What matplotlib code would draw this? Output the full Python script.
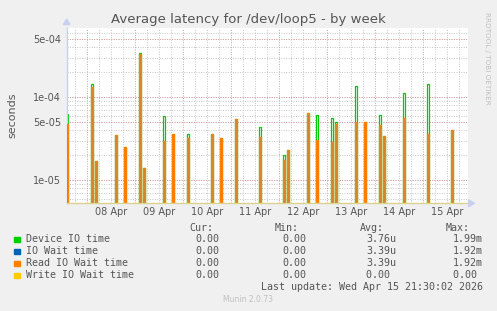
import numpy as np
import matplotlib
matplotlib.use("Agg")
import matplotlib.pyplot as plt
from matplotlib.ticker import LogLocator, NullFormatter

# hours since 08 Apr 00:00
spike_hours = [-10, 2.5, 4.5, 14.5, 19, 26.5, 28.5, 38.5, 43, 50.5, 62.5, 67, 74.5,
               86.5, 98.5, 100.5, 110.5, 115, 122.5, 124.5, 134.5, 139, 146.5, 148.5,
               158.5, 170.5, 182.5]
device_io = [6.3e-5, 1.45e-4, 1.7e-5, 3.5e-5, 2.5e-5, 3.42e-4, 1.4e-5, 6.0e-5, 3.6e-5,
             3.6e-5, 3.6e-5, 3.2e-5, 5.5e-5, 4.4e-5, 2.02e-5, 2.3e-5, 6.5e-5, 6.1e-5,
             5.6e-5, 5.0e-5, 1.37e-4, 5.0e-5, 6.1e-5, 3.4e-5, 1.12e-4, 1.44e-4, 4.0e-5]
read_wait = [4.76e-5, 1.34e-4, 1.72e-5, 3.54e-5, 2.52e-5, 3.3e-4, 1.42e-5, 3.0e-5, 3.6e-5,
             3.2e-5, 3.6e-5, 3.2e-5, 5.5e-5, 3.3e-5, 1.76e-5, 2.32e-5, 6.5e-5, 3.06e-5,
             2.87e-5, 4.76e-5, 5.0e-5, 5.0e-5, 4.7e-5, 3.4e-5, 5.6e-5, 3.6e-5, 4.0e-5]

day_labels = ["08 Apr", "09 Apr", "10 Apr", "11 Apr", "12 Apr", "13 Apr", "14 Apr", "15 Apr"]
y_ticks = [1e-5, 5e-5, 1e-4, 5e-4]
y_ticklabels = ["1e-05", "5e-05", "1e-04", "5e-04"]

series_names = ["Device IO time", "IO Wait time", "Read IO Wait time", "Write IO Wait time"]
series_colors = ["#00cc00", "#0066b3", "#ff8000", "#ffcc00"]
cur_vals = ["0.00", "0.00", "0.00", "0.00"]
min_vals = ["0.00", "0.00", "0.00", "0.00"]
avg_vals = ["3.76u", "3.39u", "3.39u", "0.00 "]
max_vals = ["1.99m", "1.92m", "1.92m", "0.00 "]

txt = "#555555"
W, H = 497, 311
fig = plt.figure(figsize=(W / 100, H / 100), dpi=100, facecolor="#f0f0f0")
L, R, T, B = 66.7, 468.3, 27.7, 203.3
ax = fig.add_axes([L / W, 1 - B / H, (R - L) / W, (B - T) / H])
ax.set_facecolor("white")
ax.set_yscale("log")
ax.set_xlim(-10.3, 190.5)
ax.set_ylim(5.28e-6, 6.9e-4)

# grid
grey = "#c6c6c6"
pink = "#e29c9c"
dots = (0, (1, 1.5))
minor_y = LogLocator(base=10, subs=np.arange(1, 10)).tick_values(1e-6, 1e-3)
for v in minor_y:
    ax.axhline(v, color=grey, lw=0.7, ls=dots, zorder=0)
for v in y_ticks:
    ax.axhline(v, color=pink, lw=0.7, ls=dots, zorder=0.5)
for h in np.arange(-6, 191, 6):
    if h % 24 == 0:
        ax.axvline(h, color=pink, lw=0.7, ls=dots, zorder=0.5)
    else:
        ax.axvline(h, color=grey, lw=0.7, ls=dots, zorder=0)

# spikes
floor = 1e-7
ax.bar(spike_hours, np.array(device_io) - floor, bottom=floor, width=1.0,
       facecolor="none", edgecolor=series_colors[0], lw=0.9, zorder=2)
ax.bar(spike_hours, np.array(read_wait) - floor, bottom=floor, width=1.0,
       facecolor="#c8883a", edgecolor=series_colors[2], lw=0.9, zorder=3)

ax.set_yticks(y_ticks)
ax.set_yticklabels(y_ticklabels)
ax.yaxis.set_minor_formatter(NullFormatter())
ax.tick_params(axis="y", which="both", length=0, labelsize=7, colors=txt, pad=4)
ax.set_xticks(np.arange(12, 12 + 24 * len(day_labels), 24))
ax.set_xticklabels(day_labels)
ax.tick_params(axis="x", which="both", length=0, labelsize=7, colors=txt, pad=3)

for s in ["top", "right"]:
    ax.spines[s].set_visible(False)
ax.spines["left"].set_color("#c8d0f0")
ax.spines["left"].set_linewidth(1)
ax.spines["bottom"].set_color("#e0d090")
ax.spines["bottom"].set_linewidth(1)
ax.spines["bottom"].set_zorder(5)

# axis arrows
fig.patches.append(plt.Polygon([[63.5 / W, 1 - 24.5 / H], [70 / W, 1 - 24.5 / H], [66.7 / W, 1 - 19 / H]],
                               closed=True, transform=fig.transFigure, color="#c8d0f0"))
fig.patches.append(plt.Polygon([[468.5 / W, 1 - 199.8 / H], [468.5 / W, 1 - 206.8 / H], [474.5 / W, 1 - 203.3 / H]],
                               closed=True, transform=fig.transFigure, color="#c8d0f0"))

fig.text(248 / W, 1 - 19 / H, "Average latency for /dev/loop5 - by week", ha="center", va="center",
         fontsize=9.5, color=txt)
fig.text(12 / W, 1 - 115 / H, "seconds", rotation=90, ha="center", va="center", fontsize=8, color=txt)
fig.text(487 / W, 1 - 58 / H, "RRDTOOL / TOBI OETIKER", rotation=270, ha="center", va="center",
         fontsize=5.2, color="#c0c0c0")

mono = dict(family="DejaVu Sans Mono", fontsize=7.2, color=txt, va="center")
fig.text(213 / W, 1 - 228 / H, "Cur:", ha="right", **mono)
fig.text(299 / W, 1 - 228 / H, "Min:", ha="right", **mono)
fig.text(384 / W, 1 - 228 / H, "Avg:", ha="right", **mono)
fig.text(470 / W, 1 - 228 / H, "Max:", ha="right", **mono)
for i, name in enumerate(series_names):
    y = 1 - (239.5 + 12 * i) / H
    fig.patches.append(plt.Rectangle((14 / W, y - 2.7 / H), 5.5 / W, 5.5 / H, transform=fig.transFigure,
                                     color=series_colors[i]))
    fig.text(26 / W, y, name, ha="left", **mono)
    fig.text(219.5 / W, y, cur_vals[i], ha="right", **mono)
    fig.text(306 / W, y, min_vals[i], ha="right", **mono)
    fig.text(396.5 / W, y, avg_vals[i], ha="right", **mono)
    fig.text(483 / W, y, max_vals[i], ha="right", **mono)
fig.text(483 / W, 1 - 287.5 / H, "Last update: Wed Apr 15 21:30:02 2026", ha="right", **mono)
fig.text(248 / W, 1 - 300 / H, "Munin 2.0.73", ha="center", va="center", fontsize=5.5, color="#c0c0c0")

fig.savefig("out.png", dpi=100, facecolor=fig.get_facecolor())
